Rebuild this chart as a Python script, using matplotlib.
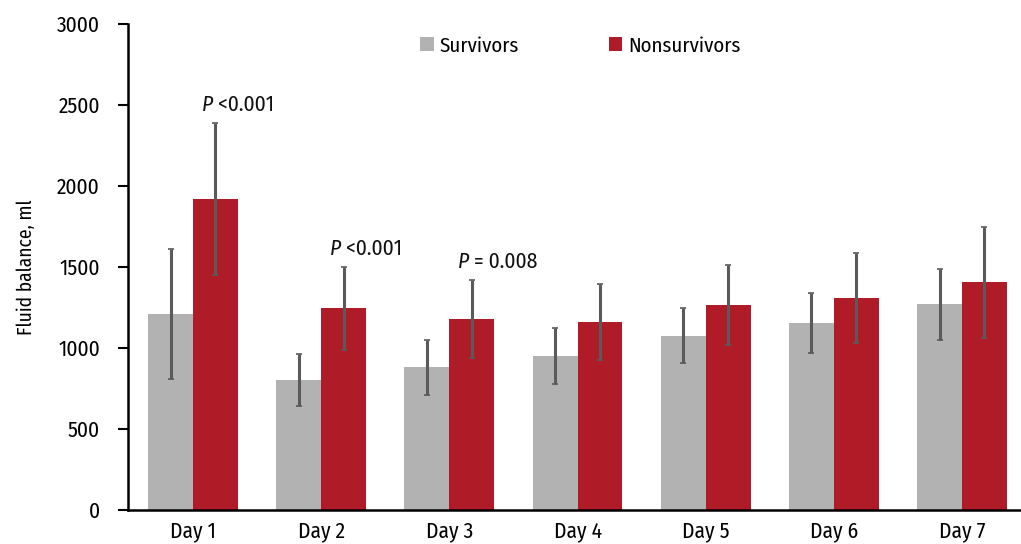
import matplotlib
matplotlib.use("Agg")
import matplotlib.pyplot as plt
import numpy as np
import warnings
warnings.filterwarnings("ignore")

days = ["Day 1", "Day 2", "Day 3", "Day 4", "Day 5", "Day 6", "Day 7"]
survivors = [1210, 805, 880, 950, 1075, 1155, 1270]
survivors_err = [400, 160, 170, 172, 170, 185, 218]
nonsurvivors = [1920, 1245, 1180, 1160, 1265, 1310, 1405]
nonsurvivors_err = [470, 257, 240, 235, 248, 278, 342]
pvals = [(0, "<0.001"), (1, "<0.001"), (2, "= 0.008")]
yticks = [0, 500, 1000, 1500, 2000, 2500, 3000]

FONTS = ['Fira Sans Condensed', 'Roboto Condensed', 'PT Sans Narrow',
         'Archivo Narrow', 'Asap Condensed', 'Roboto', 'DejaVu Sans']
plt.rcParams['font.family'] = FONTS

fig = plt.figure(figsize=(10.21, 5.44), dpi=100)
ax = fig.add_axes([128/1021, 1-510/544, 1-128/1021, (510-24)/544])

x = np.arange(len(days))
w = 0.35
gray = "#b1b2b1"
red = "#b01b28"
errc = "#5a5a5a"
ekw = dict(ecolor=errc, elinewidth=2.2, capsize=2.0, capthick=1.2)
ax.bar(x - w/2, survivors, w, color=gray, label="Survivors", yerr=survivors_err, error_kw=ekw, zorder=2)
ax.bar(x + w/2, nonsurvivors, w, color=red, label="Nonsurvivors", yerr=nonsurvivors_err, error_kw=ekw, zorder=2)

FS = 15.5
for i, txt in pvals:
    top = nonsurvivors[i] + nonsurvivors_err[i]
    xc = i + w/2 - 0.02
    ax.text(xc, top + 72, "P", ha="right", va="baseline", fontsize=FS,
            style="italic", color="#111111")
    ax.text(xc, top + 72, " " + txt, ha="left", va="baseline", fontsize=FS,
            color="#111111")

ax.set_xlim(-0.507, 6.46)
ax.set_ylim(0, 3000)
ax.set_yticks(yticks)
ax.set_yticklabels([str(v) for v in yticks], fontsize=FS)
ax.set_xticks(x)
ax.set_xticklabels(days, fontsize=FS)
ax.tick_params(axis='x', length=0, pad=8)
ax.tick_params(axis='y', length=7.2, width=1.5, pad=13)
for s in ["top", "right"]:
    ax.spines[s].set_visible(False)
ax.spines["left"].set_linewidth(1.8)
ax.spines["bottom"].set_linewidth(1.8)
ax.set_ylabel("Fluid balance, ml", fontsize=14, labelpad=15)

ax.legend(loc="upper left", bbox_to_anchor=(0.327, 0.975), ncol=2, frameon=False,
          fontsize=15, handlelength=0.65, handleheight=0.65, handletextpad=0.3,
          columnspacing=4.3, borderpad=0, borderaxespad=0)

fig.savefig("out.png", dpi=100)
